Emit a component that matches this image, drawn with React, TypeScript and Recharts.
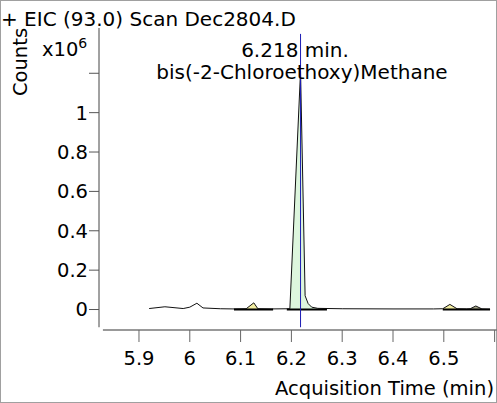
import { Area, ComposedChart, Line, ReferenceLine, XAxis, YAxis } from "recharts";

// EIC trace, acquisition time (min) vs counts (x10^6)
const TIME = [
  5.92, 5.951, 5.987, 6.0, 6.014, 6.026, 6.06, 6.085, 6.111, 6.126, 6.134, 6.16, 6.197, 6.218,
  6.227, 6.233, 6.24, 6.252, 6.3, 6.4, 6.48, 6.498, 6.512, 6.526, 6.545, 6.552, 6.563, 6.575, 6.591,
];
const COUNTS = [
  0.005, 0.014, 0.005, 0.012, 0.032, 0.008, 0.004, 0.003, 0.004, 0.034, 0.004, 0.003, 0.004, 1.21,
  0.07, 0.03, 0.012, 0.006, 0.004, 0.003, 0.003, 0.004, 0.026, 0.004, 0.003, 0.004, 0.018, 0.003, 0.002,
];

// integrated peaks (start / end time) and their baselines
const PEAK_START = [6.111, 6.197, 6.498, 6.552];
const PEAK_END = [6.134, 6.26, 6.526, 6.575];
const BASE_START = [6.087, 6.191, 6.498];
const BASE_END = [6.164, 6.27, 6.591];

const X_TICKS = [5.9, 6.0, 6.1, 6.2, 6.3, 6.4, 6.5, 6.6];
const Y_TICKS = [0, 0.2, 0.4, 0.6, 0.8, 1, 1.2];
const X_DOMAIN = [5.8213, 6.6047];
const Y_DOMAIN = [-0.104, 1.43];
const X_AXIS_START = 5.829;
const Y_AXIS_END = -0.09;

const MARKER_TIME = 6.218;
const MARKER_TOP = 1.4;
const COMPOUND = "bis(-2-Chloroethoxy)Methane";
const TITLE = "+ EIC (93.0) Scan Dec2804.D";

const PEAK_COLORS = ["#f3eea2", "#ddf6dd", "#f3eea2", "#a9a98a"];
const FONT = "'DejaVu Sans', Verdana, sans-serif";

const trace = TIME.map((t, i) => ({ t, v: COUNTS[i] }));

export default function App() {
  const tick = { fill: "#000", fontSize: 19.5, fontFamily: FONT };
  return (
    <div style={{ position: "fixed", left: 0, top: 0, width: 497, height: 403, background: "#fff", boxSizing: "border-box", border: "1px solid #a0a0a0" }}>
      <div style={{ position: "absolute", left: -1, top: -1 }}>
        <ComposedChart width={497} height={403} margin={{ top: 28, right: 0, bottom: 0, left: 0 }}>
          <XAxis type="number" dataKey="t" domain={X_DOMAIN} ticks={X_TICKS} interval={0} allowDataOverflow
            height={73} axisLine={false} tickSize={12} tickMargin={9} stroke="#666" tick={tick}
            tickFormatter={(v: number) => (v === 6.6 ? "" : String(v))} />
          <YAxis type="number" domain={Y_DOMAIN} ticks={Y_TICKS} interval={0} allowDataOverflow
            width={99} axisLine={false} tickSize={10} tickMargin={1} stroke="#555" tick={tick}
            tickFormatter={(v: number) => (v === 1.2 ? "" : String(v))} />
          {PEAK_START.map((s, i) => (
            <Area key={"p" + i} data={trace.filter((d) => d.t >= s && d.t <= PEAK_END[i])} dataKey="v" type="linear"
              baseValue={0} stroke="none" fill={PEAK_COLORS[i]} fillOpacity={1} isAnimationActive={false} />
          ))}
          <Line data={trace} dataKey="v" type="linear" stroke="#111" strokeWidth={1} dot={false} isAnimationActive={false} />
          {BASE_START.map((s, i) => (
            <Line key={"b" + i} data={[{ t: s, v: 0 }, { t: BASE_END[i], v: 0 }]} dataKey="v" type="linear"
              stroke="#000" strokeWidth={2} dot={false} isAnimationActive={false} />
          ))}
          <ReferenceLine segment={[{ x: X_DOMAIN[0], y: Y_AXIS_END }, { x: X_DOMAIN[0], y: Y_DOMAIN[1] }]} stroke="#444" />
          <ReferenceLine segment={[{ x: X_AXIS_START, y: Y_DOMAIN[0] }, { x: X_DOMAIN[1], y: Y_DOMAIN[0] }]} stroke="#777" strokeWidth={1.5} />
          <ReferenceLine segment={[{ x: MARKER_TIME, y: Y_AXIS_END }, { x: MARKER_TIME, y: MARKER_TOP }]} stroke="#1c1cb4" />
        </ComposedChart>
        <svg width={497} height={403} style={{ position: "absolute", left: 0, top: 0, pointerEvents: "none" }}
          fontFamily={FONT} fontSize={20} fill="#000">
          <text x={1} y={26}>{TITLE}</text>
          <text transform="translate(27,62) rotate(-90)" textAnchor="middle" fontSize={19.5}>Counts</text>
          <text x={42} y={56} fontSize={19.5}>x10<tspan dy={-8} fontSize={14}>6</tspan></text>
          <text x={295} y={57} textAnchor="middle">{MARKER_TIME} min.</text>
          <text x={302} y={79} textAnchor="middle">{COMPOUND}</text>
          <text x={494} y={395} textAnchor="end" fontSize={19.5}>Acquisition Time (min)</text>
        </svg>
      </div>
    </div>
  );
}
